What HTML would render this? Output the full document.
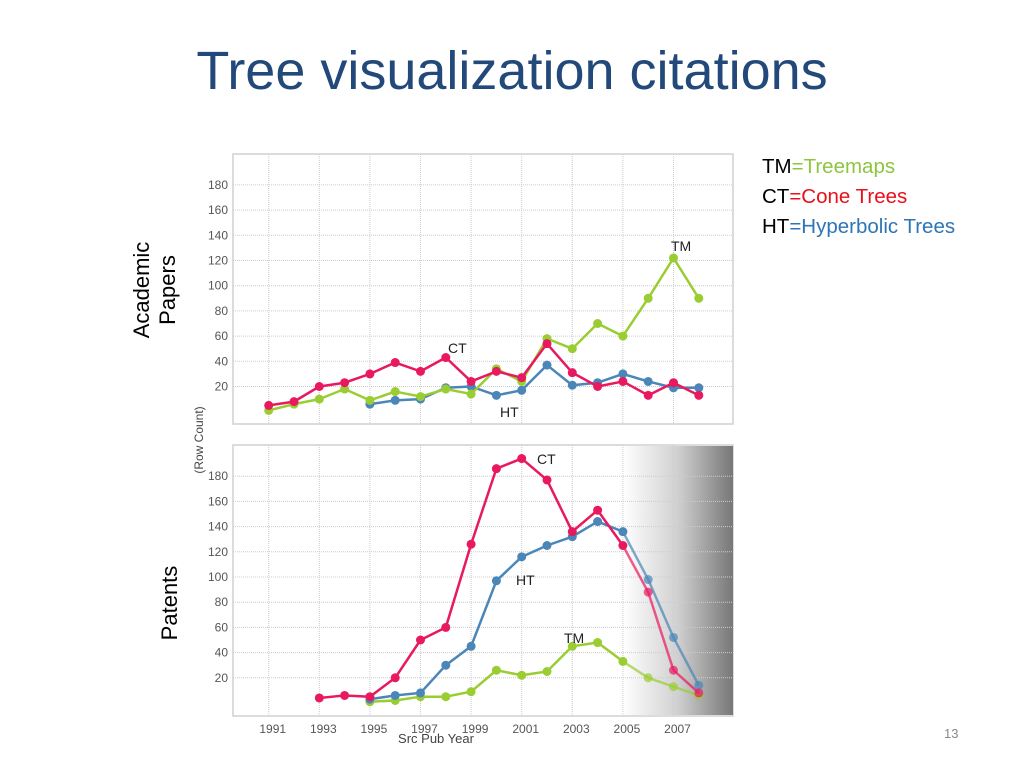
<!DOCTYPE html>
<html><head><meta charset="utf-8">
<style>
body{margin:0;width:1024px;height:768px;background:#fff;overflow:hidden;font-family:"Liberation Sans",sans-serif;}
#title{position:absolute;left:0;width:1024px;top:40px;text-align:center;font-size:54px;color:#23497a;}
.legend{position:absolute;left:762px;font-size:20.5px;color:#000;}
.side{position:absolute;font-size:22px;color:#000;transform:rotate(-90deg);transform-origin:center;white-space:nowrap;text-align:center;line-height:26px;}
#pg{position:absolute;left:944px;top:726px;font-size:13px;color:#888;}
</style></head><body>
<div id="title">Tree visualization citations</div>
<div class="legend" style="top:155px">TM<span style="color:#8cc63f">=Treemaps</span></div>
<div class="legend" style="top:185px">CT<span style="color:#e8101a">=Cone Trees</span></div>
<div class="legend" style="top:215px">HT<span style="color:#2e75b6">=Hyperbolic Trees</span></div>
<div class="side" style="left:100px;top:264px;width:110px;height:52px">Academic<br>Papers</div>
<div class="side" style="left:120px;top:590px;width:100px;height:26px">Patents</div>
<div id="pg">13</div>
<svg id="chart" width="1024" height="768" style="position:absolute;left:0;top:0">
<defs><linearGradient id="fade" x1="0" x2="1" y1="0" y2="0"><stop offset="0" stop-color="#fff"/><stop offset="0.5" stop-color="#d0d0d0"/><stop offset="1" stop-color="#777"/></linearGradient></defs>
</svg>
<script>
const years=[1991,1992,1993,1994,1995,1996,1997,1998,1999,2000,2001,2002,2003,2004,2005,2006,2007,2008];
const yTicks=[20,40,60,80,100,120,140,160,180];
const xTicks=[1991,1993,1995,1997,1999,2001,2003,2005,2007];
const acadCT=[5,8,20,23,30,39,32,43,24,32,27,54,31,20,24,13,23,13];
const acadTM=[1,6,10,18,9,16,12,18,14,34,24,58,50,70,60,90,122,90];
const acadHT=[null,null,null,null,6,9,10,19,20,13,17,37,21,23,30,24,19,19];
const patCT=[null,null,4,6,5,20,50,60,126,186,194,177,136,153,125,88,26,8];
const patHT=[null,null,null,null,3,6,8,30,45,97,116,125,132,144,136,98,52,14];
const patTM=[null,null,null,null,1,2,5,5,9,26,22,25,45,48,33,20,13,6];

const svg=document.getElementById('chart');
const NS='http://www.w3.org/2000/svg';
function mk(t,a){const e=document.createElementNS(NS,t);for(const k in a)e.setAttribute(k,a[k]);svg.appendChild(e);return e;}
const X=y=>268.7+25.3*(y-1991);
const L=233,R=733;
function panel(top,bottom,zeroY,name,fade,series,labels){
  const Y=v=>zeroY-1.26*v;
  const bg=mk('rect',{x:L,y:top,width:R-L,height:bottom-top,fill:'#fff',stroke:'#d0d0d0','stroke-width':1.5});
  
  
  if(fade){const f=mk('rect',{x:X(2005),y:top+1,width:R-X(2005),height:bottom-top-2,fill:'url(#fade)'});
    
    }
  yTicks.forEach(v=>{
    const g=mk('line',{x1:L,x2:R,y1:Y(v),y2:Y(v),stroke:'#ccc','stroke-dasharray':'1,1'});
    
    
    const t=mk('text',{x:L-5,y:Y(v)+4,'text-anchor':'end','font-size':12,fill:'#555'});t.textContent=v;
    
    
  });
  xTicks.forEach(yr=>{
    const g=mk('line',{x1:X(yr),x2:X(yr),y1:top,y2:bottom,stroke:'#ccc','stroke-dasharray':'1,1'});
    
    
  });
  series.forEach(s=>{
    for(let i=1;i<years.length;i++){
      const a=s.d[i-1],b=s.d[i];
      if(a==null||b==null)continue;
      const ln=mk('line',{x1:X(years[i-1]),y1:Y(a),x2:X(years[i]),y2:Y(b),stroke:s.c,'stroke-width':2.5,opacity:(fade&&years[i]>2005)?0.7:1});
      
      
    }
    s.d.forEach((v,i)=>{
      if(v==null)return;
      const c=mk('circle',{cx:X(years[i]),cy:Y(v),r:4.5,fill:s.c,opacity:(fade&&years[i]>2005)?0.7:1});
      
      
    });
  });
  labels.forEach(l=>{
    const t=mk('text',{x:l[1],y:l[2],'font-size':14,fill:'#222'});t.textContent=l[0];
    
    
  });
}
panel(154,424,411.7,'academic',false,
  [{n:'ht',c:'#4a86b8',d:acadHT},{n:'tm',c:'#9acd32',d:acadTM},{n:'ct',c:'#e8195e',d:acadCT}],
  [['TM',671,251],['CT',448,353],['HT',500,417]]);
panel(445,716,703,'patents',true,
  [{n:'tm',c:'#9acd32',d:patTM},{n:'ht',c:'#4a86b8',d:patHT},{n:'ct',c:'#e8195e',d:patCT}],
  [['CT',537,464],['HT',516,585],['TM',564,643]]);
xTicks.forEach(yr=>{
  const t=mk('text',{x:X(yr)+4,y:733,'text-anchor':'middle','font-size':12,fill:'#555'});t.textContent=yr;
  
  
});
const xt=mk('text',{x:436,y:743,'text-anchor':'middle','font-size':13,fill:'#444'});xt.textContent='Src Pub Year';


const yt=mk('text',{x:0,y:0,'text-anchor':'middle','font-size':12,fill:'#444',transform:'translate(203,440) rotate(-90)'});yt.textContent='(Row Count)';


</script>
</body></html>
